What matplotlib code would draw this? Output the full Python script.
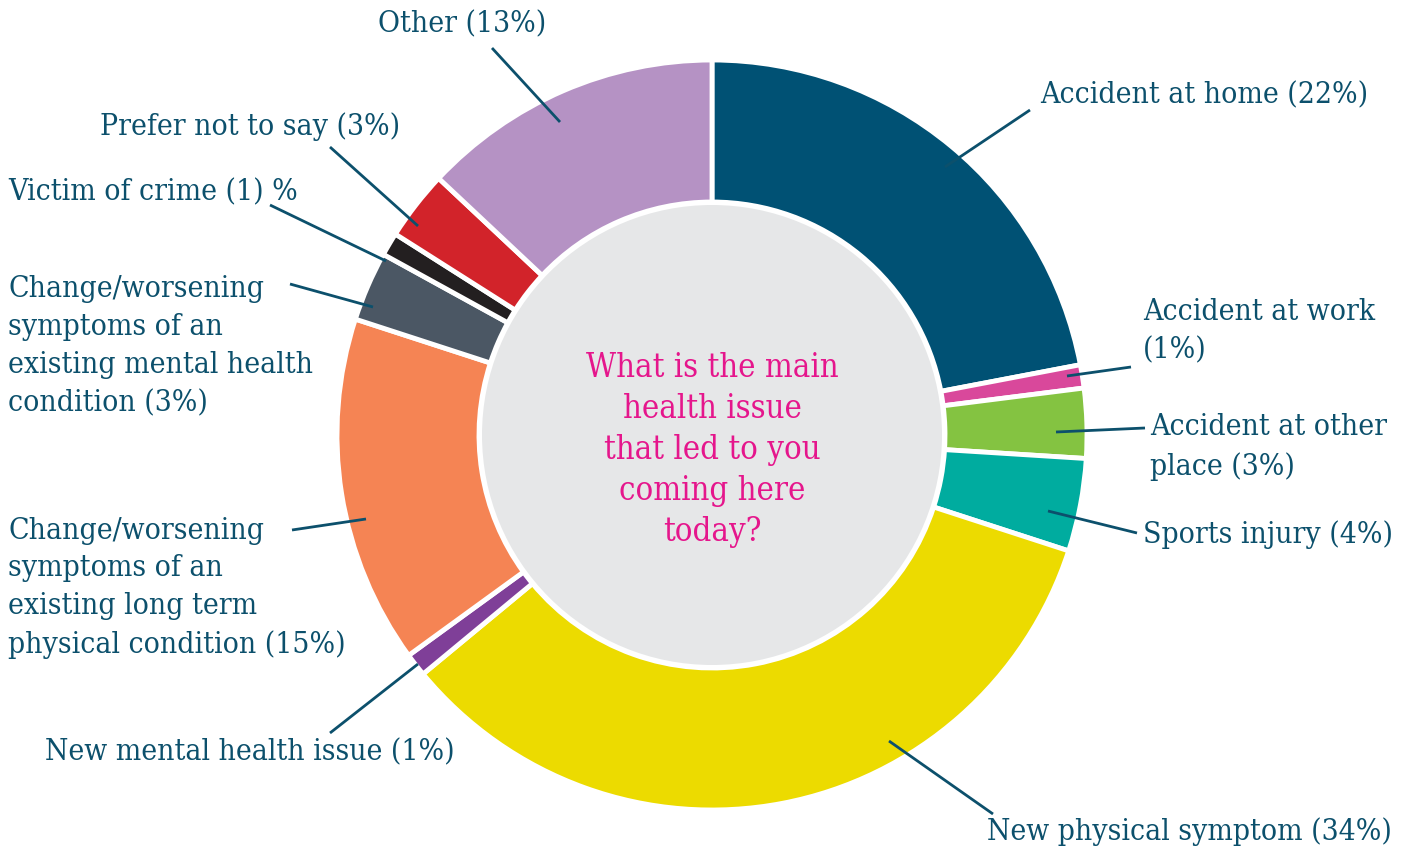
import matplotlib
matplotlib.use("Agg")
import matplotlib.pyplot as plt
from matplotlib.patches import Circle

# data, clockwise from 12 o'clock
categories = ["Accident at home", "Accident at work", "Accident at other place",
              "Sports injury", "New physical symptom", "New mental health issue",
              "Change/worsening long term physical condition",
              "Change/worsening mental health condition", "Victim of crime",
              "Prefer not to say", "Other"]
values = [22, 1, 3, 4, 34, 1, 15, 3, 1, 3, 13]
label_texts = ["Accident at home (22%)",
               "Accident at work\n(1%)",
               "Accident at other\nplace (3%)",
               "Sports injury (4%)",
               "New physical symptom (34%)",
               "New mental health issue (1%)",
               "Change/worsening\nsymptoms of an\nexisting long term\nphysical condition (15%)",
               "Change/worsening\nsymptoms of an\nexisting mental health\ncondition (3%)",
               "Victim of crime (1) %",
               "Prefer not to say (3%)",
               "Other (13%)"]
colors = ["#005174", "#d9489b", "#84c341", "#00ac9f", "#ecdb00", "#7f3f98",
          "#f58454", "#4b5764", "#231f20", "#d2232a", "#b592c4"]
question = "What is the main\nhealth issue\nthat led to you\ncoming here\ntoday?"

W, H = 1418, 850
CX, CY, R = 712, H - 435, 375
TEXT = "#0c506c"
FONT = "DejaVu Serif"

# label layout in pixel coords (image y measured from top):
# text x, text centre y, leader start (x, y), leader end (x, y)
layout = [
    (1040, 95, (945, 167), (1030, 110)),
    (1143, 331, (1067, 376), (1131, 367)),
    (1150, 447, (1056, 432), (1145, 428)),
    (1143, 535, (1048, 511), (1137, 533)),
    (987, 832, (889, 741), (993, 814)),
    (45, 752, (418, 664), (330, 733)),
    (8, 588, (366, 519), (292, 530)),
    (8, 346, (373, 307), (290, 284)),
    (8, 192, (386, 261), (270, 205)),
    (100, 127, (418, 226), (330, 147)),
    (378, 24, (560, 122), (492, 48)),
]


def draw_donut(ax):
    ax.pie(values, colors=colors, startangle=90, counterclock=False,
           center=(CX, CY), radius=R,
           wedgeprops=dict(width=142, edgecolor="white", linewidth=3.5))
    ax.add_patch(Circle((CX, CY), 230, facecolor="#e6e7e8", edgecolor="none"))
    ax.text(CX, CY - 15, question, ha="center", va="center", color="#e5168c",
            fontsize=23.5, family=FONT, fontstretch="condensed", linespacing=1.37)


def draw_labels(ax):
    for txt, (tx, ty, p0, p1) in zip(label_texts, layout):
        ax.plot([p0[0], p1[0]], [H - p0[1], H - p1[1]], color=TEXT, lw=2,
                solid_capstyle="butt")
        ax.text(tx, H - ty, txt, ha="left", va="center", color=TEXT,
                fontsize=21.5, family=FONT, fontstretch="condensed",
                linespacing=1.45)


if __name__ == "__main__":
    fig = plt.figure(figsize=(W / 100, H / 100), dpi=100)
    ax = fig.add_axes([0, 0, 1, 1])
    draw_donut(ax)
    draw_labels(ax)
    ax.set_xlim(0, W)
    ax.set_ylim(0, H)
    ax.set_aspect("auto")
    ax.axis("off")
    fig.savefig("out.png", dpi=100, facecolor="white")
